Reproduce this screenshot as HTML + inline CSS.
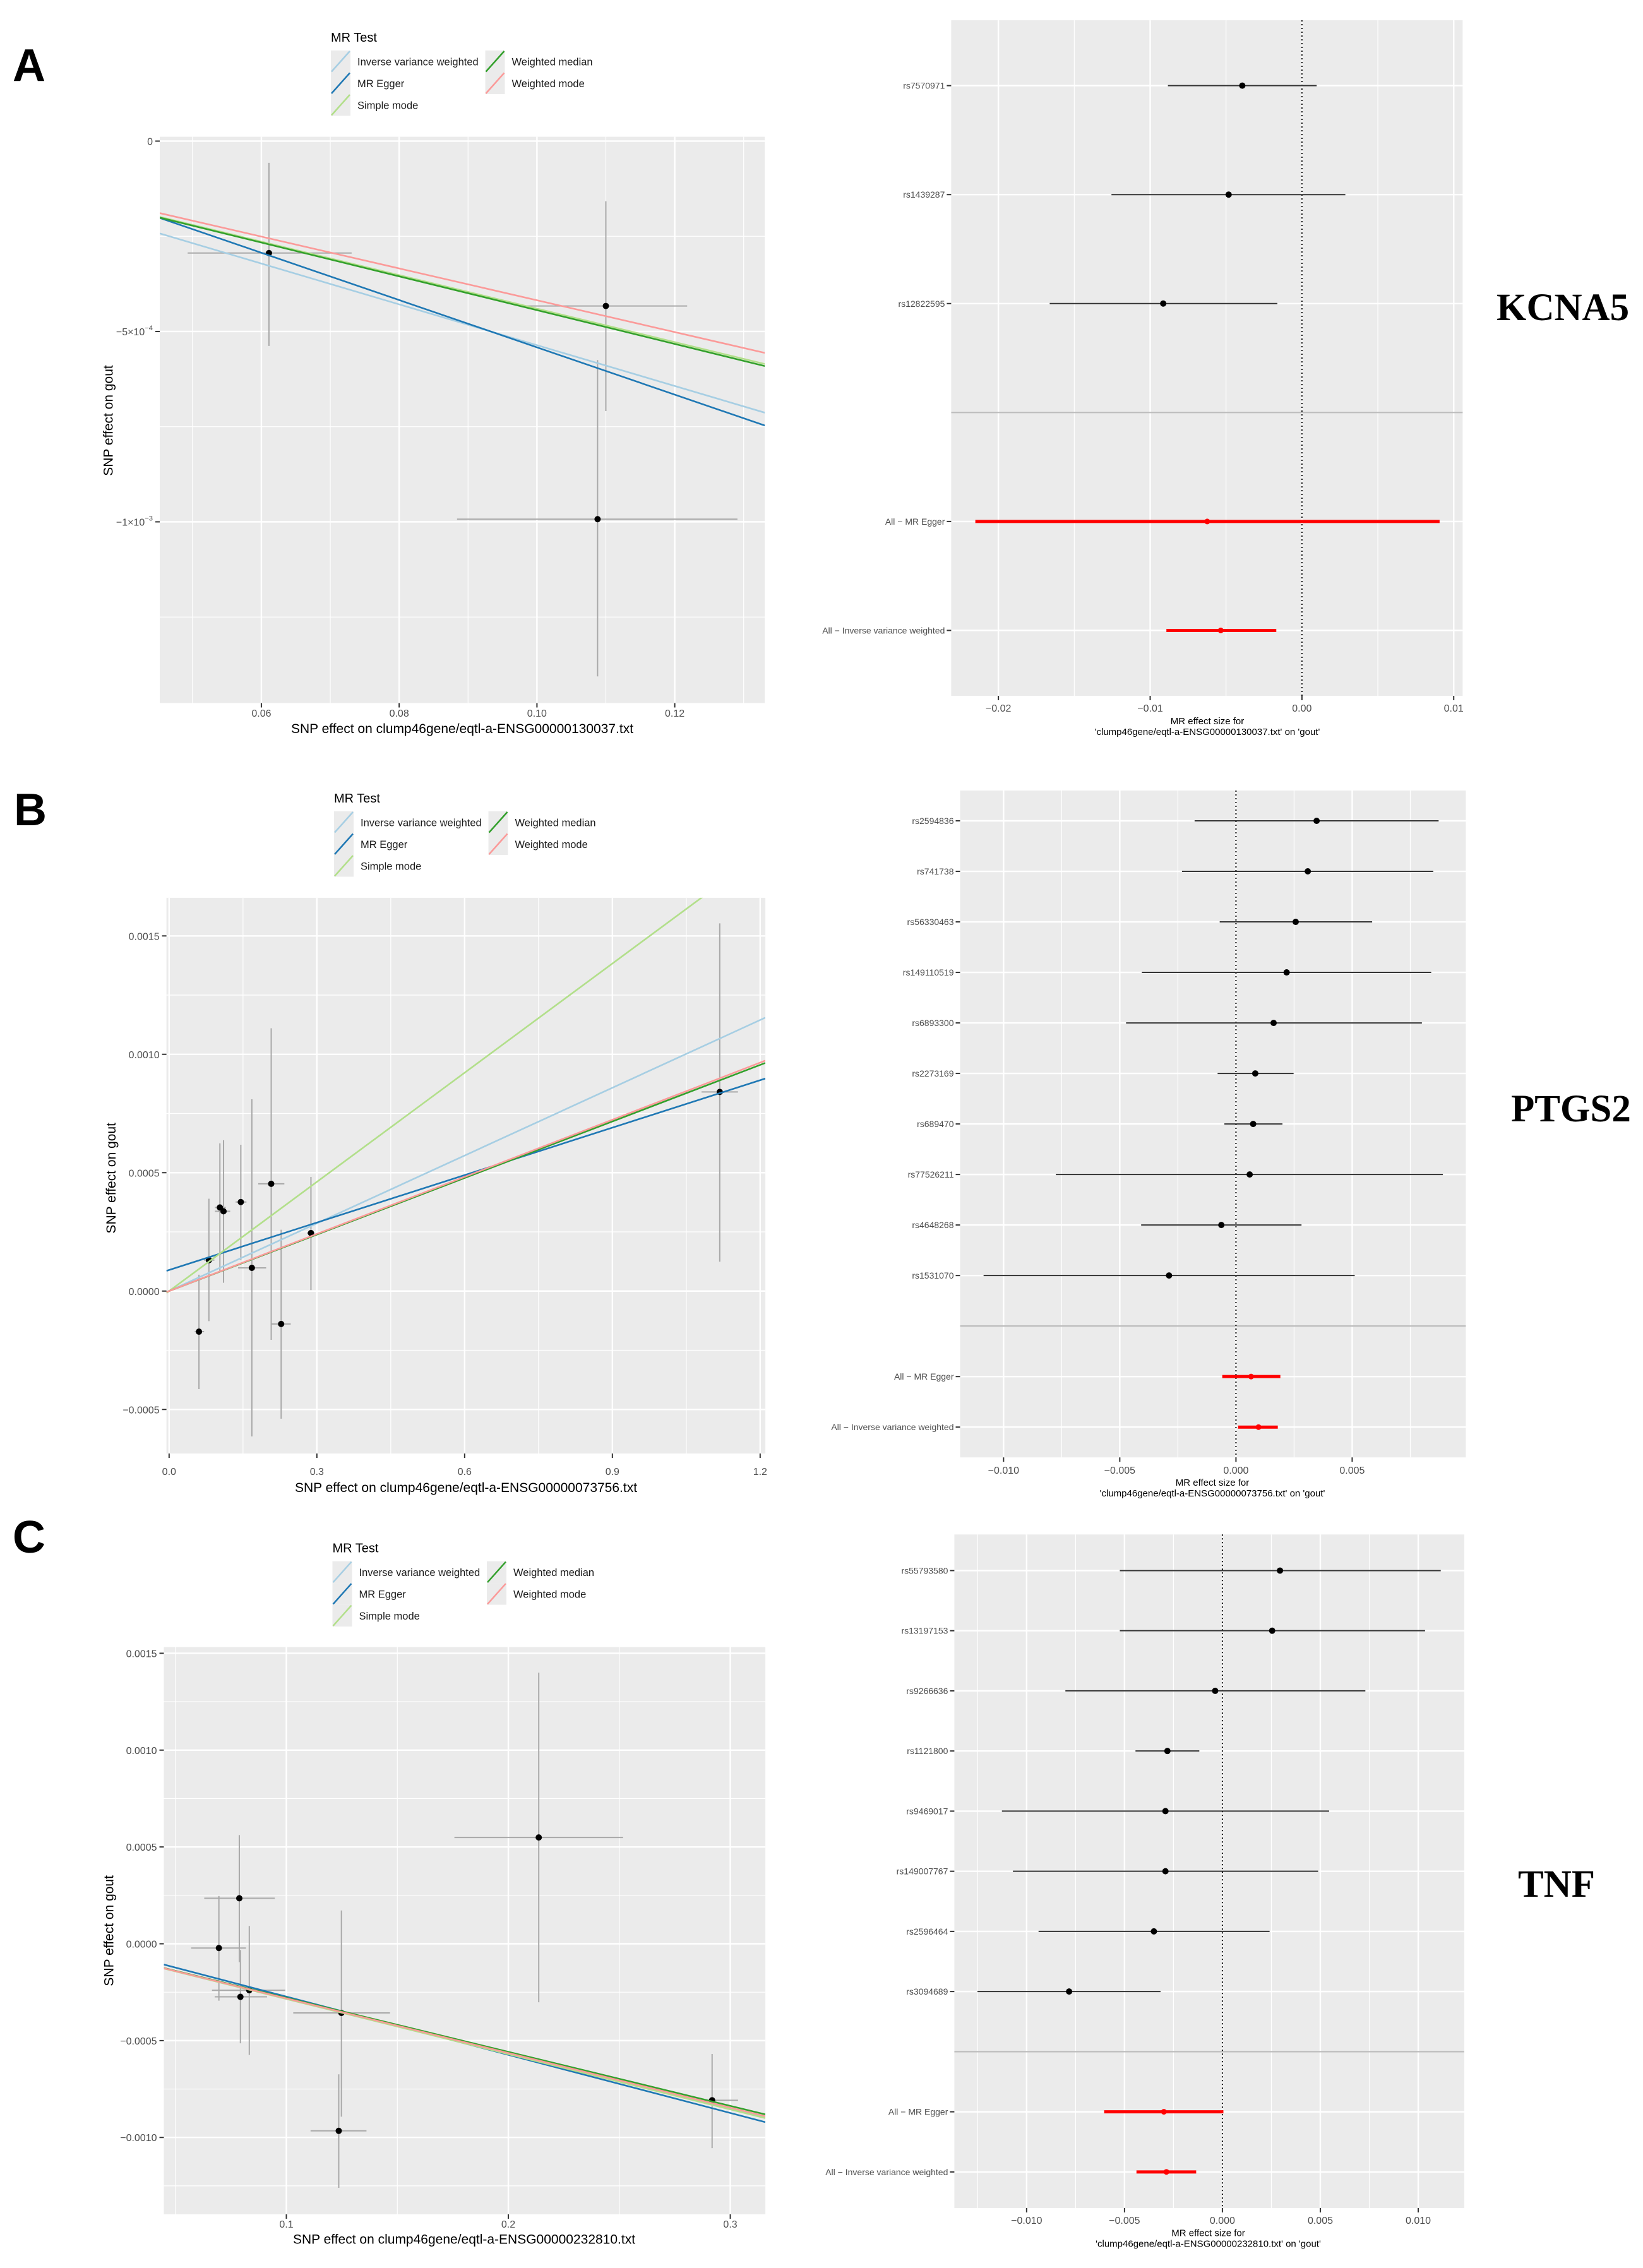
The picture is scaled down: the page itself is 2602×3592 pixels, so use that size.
<!DOCTYPE html>
<html><head><meta charset="utf-8"><title>MR scatter and forest plots</title>
<style>
html,body{margin:0;padding:0;background:#fff;}
svg{display:block;}
.tk{font-family:"Liberation Sans Narrow","Liberation Sans",sans-serif;fill:#4d4d4d;}
.ttl{font-family:"Liberation Sans",sans-serif;fill:#000;}
</style></head>
<body>
<svg id="chart" xmlns="http://www.w3.org/2000/svg" width="2602" height="3592" viewBox="0 0 2602 3592">
<rect x="0" y="0" width="2602" height="3592" fill="#fff"/>
<text x="20" y="128" font-family="Liberation Sans, sans-serif" font-weight="bold" font-size="72">A</text>
<text x="22" y="1307" font-family="Liberation Sans, sans-serif" font-weight="bold" font-size="72">B</text>
<text x="20" y="2459" font-family="Liberation Sans, sans-serif" font-weight="bold" font-size="72">C</text>
<text x="2370" y="507" font-family="Liberation Serif, serif" font-weight="bold" font-size="61">KCNA5</text>
<text x="2393" y="1776" font-family="Liberation Serif, serif" font-weight="bold" font-size="61">PTGS2</text>
<text x="2404" y="3004" font-family="Liberation Serif, serif" font-weight="bold" font-size="61">TNF</text>
</svg>
<script>
// ---------- shared ----------
const methods=["Inverse variance weighted","MR Egger","Simple mode","Weighted median","Weighted mode"];
const methodColors=["#a6cee3","#1f78b4","#b2df8a","#33a02c","#fb9a99"];

// ---------- Panel A scatter ----------
const aXTicks=[0.06,0.08,0.10,0.12];
const aXTickLabels=["0.06","0.08","0.10","0.12"];
const aXMinor=[0.05,0.07,0.09,0.11,0.13];
const aYTicks=[0,-0.0005,-0.001];
const aYTickLabels=["0","−5×10^−4","−1×10^−3"];
const aYMinor=[-0.00025,-0.00075,-0.00125];
const aBx=[0.0611,0.1100,0.1088];
const aBy=[-0.000294,-0.000433,-0.000993];
const aXlo=[0.0493,0.0985,0.0884];
const aXhi=[0.0731,0.1218,0.1291];
const aYlo=[-0.000538,-0.000709,-0.001406];
const aYhi=[-0.000057,-0.000158,-0.000575];
const aSlope=[-0.00536,-0.00621,-0.00440,-0.00444,-0.00418];
const aIntercept=[0,0.0000793,0,0,0];

// ---------- Panel B scatter ----------
const bXTicks=[0,0.3,0.6,0.9,1.2];
const bXTickLabels=["0.0","0.3","0.6","0.9","1.2"];
const bXMinor=[0.15,0.45,0.75,1.05];
const bYTicks=[0.0015,0.001,0.0005,0,-0.0005];
const bYTickLabels=["0.0015","0.0010","0.0005","0.0000","−0.0005"];
const bYMinor=[0.00125,0.00075,0.00025,-0.00025];
const bBx=[0.0606,0.0808,0.1031,0.1105,0.1456,0.168,0.2073,0.2275,0.288,1.118];
const bBy=[-0.0001714,0.0001306,0.000353,0.000337,0.000376,0.000098,0.000453,-0.000139,0.000245,0.000841];
const bXlo=[0.052,0.071,0.093,0.093,0.135,0.140,0.181,0.207,0.280,1.081];
const bXhi=[0.071,0.092,0.115,0.124,0.157,0.197,0.234,0.247,0.295,1.155];
const bYlo=[-0.000414,-0.000127,0.00008,0.000035,0.000131,-0.000614,-0.000206,-0.000539,0.000004,0.000124];
const bYhi=[0.000069,0.00039,0.000624,0.000637,0.000618,0.00081,0.00111,0.000259,0.000482,0.001553];
const bSlope=[0.000954,0.000668,0.001537,0.000796,0.000804];
const bIntercept=[0,0.000089,0,0,0];

// ---------- Panel C scatter ----------
const cXTicks=[0.1,0.2,0.3];
const cXTickLabels=["0.1","0.2","0.3"];
const cXMinor=[0.05,0.15,0.25];
const cYTicks=[0.0015,0.001,0.0005,0,-0.0005,-0.001];
const cYTickLabels=["0.0015","0.0010","0.0005","0.0000","−0.0005","−0.0010"];
const cYMinor=[0.00125,0.00075,0.00025,-0.00025,-0.00075,-0.00125];
const cBx=[0.0696,0.0788,0.0793,0.0833,0.1248,0.1236,0.2137,0.2918];
const cBy=[-0.000022,0.000235,-0.000274,-0.00024,-0.000357,-0.000966,0.000549,-0.000808];
const cXlo=[0.0571,0.0630,0.0677,0.0665,0.1031,0.1109,0.1757,0.2847];
const cXhi=[0.0818,0.0948,0.0913,0.0995,0.1467,0.1361,0.2517,0.3035];
const cYlo=[-0.000294,-0.000095,-0.000514,-0.000574,-0.000893,-0.00126,-0.000302,-0.001055];
const cYhi=[0.000247,0.000561,-0.000032,0.000092,0.000172,-0.000674,0.0014,-0.000569];
const cSlope=[-0.00283,-0.003003,-0.00285,-0.00279,-0.00282];
const cIntercept=[0,0.0000273,0,0,0];

// ---------- Forest A ----------
const fALabels=["rs7570971","rs1439287","rs12822595","All − MR Egger","All − Inverse variance weighted"];
const fAEst=[-0.00393,-0.00483,-0.00914,-0.00624,-0.00535];
const fALo=[-0.00883,-0.01255,-0.01662,-0.02152,-0.00893];
const fAHi=[0.00097,0.00286,-0.00162,0.00907,-0.00169];
const fAXTicks=[-0.02,-0.01,0,0.01];
const fAXTickLabels=["−0.02","−0.01","0.00","0.01"];
const fAXMinor=[-0.015,-0.005,0.005];

// ---------- Forest B ----------
const fBLabels=["rs2594836","rs741738","rs56330463","rs149110519","rs6893300","rs2273169","rs689470","rs77526211","rs4648268","rs1531070","All − MR Egger","All − Inverse variance weighted"];
const fBEst=[0.00347,0.00309,0.00257,0.00218,0.00162,0.00083,0.00074,0.00059,-0.00063,-0.00288,0.00065,0.00097];
const fBLo=[-0.00178,-0.00232,-0.00070,-0.00405,-0.00473,-0.00079,-0.00050,-0.00775,-0.00408,-0.01086,-0.00059,0.00009];
const fBHi=[0.00872,0.00849,0.00586,0.00840,0.00800,0.00248,0.00200,0.00890,0.00282,0.00511,0.00191,0.00180];
const fBXTicks=[-0.01,-0.005,0,0.005];
const fBXTickLabels=["−0.010","−0.005","0.000","0.005"];
const fBXMinor=[-0.0075,-0.0025,0.0025,0.0075];

// ---------- Forest C ----------
const fCLabels=["rs55793580","rs13197153","rs9266636","rs1121800","rs9469017","rs149007767","rs2596464","rs3094689","All − MR Egger","All − Inverse variance weighted"];
const fCEst=[0.00294,0.00254,-0.00037,-0.00281,-0.00291,-0.00291,-0.00350,-0.00783,-0.00299,-0.00286];
const fCLo=[-0.00524,-0.00524,-0.00802,-0.00444,-0.01126,-0.01070,-0.00939,-0.01251,-0.00604,-0.00439];
const fCHi=[0.01115,0.01035,0.00730,-0.00118,0.00545,0.00489,0.00241,-0.00316,0.00005,-0.00134];
const fCXTicks=[-0.01,-0.005,0,0.005,0.01];
const fCXTickLabels=["−0.010","−0.005","0.000","0.005","0.010"];
const fCXMinor=[-0.0125,-0.0075,-0.0025,0.0025,0.0075];

// ---------- drawing helpers ----------
const NS="http://www.w3.org/2000/svg";
const svg=document.getElementById("chart");
function mk(tag,attrs,parent){
  const e=document.createElementNS(NS,tag);
  for(const k in attrs) e.setAttribute(k,attrs[k]);
  (parent||svg).appendChild(e);
  return e;
}
function tickText(parent,x,y,label,anchor,size,name){
  const t=mk("text",{x:x,y:y,"text-anchor":anchor,"font-size":size,class:"tk"},parent);
  
  
  const parts=label.split("^");
  t.appendChild(document.createTextNode(parts[0]));
  if(parts[1]){
    const s=mk("tspan",{dy:-8,"font-size":size*0.7},t);
    s.textContent=parts[1];
  }
  return t;
}

function legend(x,y,name){
  const g=mk("g",{});
  
  
  const t=mk("text",{x:x,y:y,"font-size":20,class:"tk"},g);
  
  
  t.style.fill="#000";
  t.textContent="MR Test";
  const rowH=34.5;
  methods.forEach(function(m,i){
    const col=i<3?0:1, row=i<3?i:i-3;
    const kx=x+col*244.5, ky=y+14+row*rowH;
    const e=mk("g",{},g);
    
    
    mk("rect",{x:kx,y:ky,width:31,height:rowH,fill:"#ebebeb"},e);
    mk("line",{x1:kx+1,y1:ky+rowH-1,x2:kx+30,y2:ky+1,stroke:methodColors[i],"stroke-width":2.5},e);
    const lt=mk("text",{x:kx+42,y:ky+rowH/2+6,"font-size":16.5,class:"tk"},e);
    lt.style.fill="#1a1a1a";
    lt.textContent=m;
  });
}

function scatter(P){
  const r=P.rect, xd=P.xdom, yd=P.ydom;
  const sx=function(v){return r[0]+(v-xd[0])/(xd[1]-xd[0])*(r[2]-r[0]);};
  const sy=function(v){return r[3]-(v-yd[0])/(yd[1]-yd[0])*(r[3]-r[1]);};
  const g=mk("g",{});
  
  
  const bg=mk("rect",{x:r[0],y:r[1],width:r[2]-r[0],height:r[3]-r[1],fill:"#ebebeb"},g);
  
  
  const clipId=P.name+"-clip";
  const cp=mk("clipPath",{id:clipId},g);
  mk("rect",{x:r[0],y:r[1],width:r[2]-r[0],height:r[3]-r[1]},cp);
  P.xMinor.forEach(function(v){mk("line",{x1:sx(v),x2:sx(v),y1:r[1],y2:r[3],stroke:"#fff","stroke-width":1.2},g);});
  P.yMinor.forEach(function(v){mk("line",{x1:r[0],x2:r[2],y1:sy(v),y2:sy(v),stroke:"#fff","stroke-width":1.2},g);});
  P.xTicks.forEach(function(v,i){
    const gl=mk("line",{x1:sx(v),x2:sx(v),y1:r[1],y2:r[3],stroke:"#fff","stroke-width":2.4},g);
    
    
    mk("line",{x1:sx(v),x2:sx(v),y1:r[3],y2:r[3]+7,stroke:"#333","stroke-width":2},g);
    tickText(g,sx(v),P.xTickY,P.xTickLabels[i],"middle",16,"x-tick-label");
  });
  P.yTicks.forEach(function(v,i){
    const gl=mk("line",{x1:r[0],x2:r[2],y1:sy(v),y2:sy(v),stroke:"#fff","stroke-width":2.4},g);
    
    
    mk("line",{x1:r[0]-7,x2:r[0],y1:sy(v),y2:sy(v),stroke:"#333","stroke-width":2},g);
    tickText(g,r[0]-11,sy(v)+6,P.yTickLabels[i],"end",16,"y-tick-label");
  });
  const marks=mk("g",{"clip-path":"url(#"+clipId+")"},g);
  P.bx.forEach(function(v,i){
    const eb=mk("line",{x1:sx(v),x2:sx(v),y1:sy(P.ylo[i]),y2:sy(P.yhi[i]),stroke:"#a9a9a9","stroke-width":2},marks);
    
    
    const ebh=mk("line",{x1:sx(P.xlo[i]),x2:sx(P.xhi[i]),y1:sy(P.by[i]),y2:sy(P.by[i]),stroke:"#a9a9a9","stroke-width":2},marks);
    
    
  });
  P.bx.forEach(function(v,i){
    const pt=mk("circle",{cx:sx(v),cy:sy(P.by[i]),r:5,fill:"#000"},marks);
    
    
  });
  P.slope.forEach(function(b,i){
    const a=P.intercept[i];
    const ln=mk("line",{x1:sx(xd[0]),y1:sy(a+b*xd[0]),x2:sx(xd[1]),y2:sy(a+b*xd[1]),stroke:methodColors[i],"stroke-width":2.6},marks);
    
    
  });
  const xt=mk("text",{x:P.xTitle[0],y:P.xTitle[1],"text-anchor":"middle","font-size":21,class:"ttl"},g);
  
  
  xt.textContent=P.xTitleText;
  const yt=mk("text",{x:0,y:0,"text-anchor":"middle","font-size":21,class:"ttl",transform:"translate("+(P.yTitle[0]+7)+","+P.yTitle[1]+") rotate(-90)"},g);
  
  
  yt.textContent="SNP effect on gout";
}

function forest(P){
  const r=P.rect, xd=P.xdom;
  const nSnp=P.labels.filter(function(s){return s.indexOf("All")!==0;}).length;
  const n=P.labels.length+1;
  const sx=function(v){return r[0]+(v-xd[0])/(xd[1]-xd[0])*(r[2]-r[0]);};
  const sk=function(k){return r[3]-(k-0.4)/(n+0.2)*(r[3]-r[1]);};
  const levelOf=function(i){return i<nSnp? n-i : n-i-1;};
  const g=mk("g",{});
  
  
  const bg=mk("rect",{x:r[0],y:r[1],width:r[2]-r[0],height:r[3]-r[1],fill:"#ebebeb"},g);
  
  
  P.xMinor.forEach(function(v){mk("line",{x1:sx(v),x2:sx(v),y1:r[1],y2:r[3],stroke:"#fff","stroke-width":1.2},g);});
  P.xTicks.forEach(function(v,i){
    const gl=mk("line",{x1:sx(v),x2:sx(v),y1:r[1],y2:r[3],stroke:"#fff","stroke-width":2.4},g);
    
    
    mk("line",{x1:sx(v),x2:sx(v),y1:r[3],y2:r[3]+7,stroke:"#333","stroke-width":2},g);
    tickText(g,sx(v),P.xTickY,P.xTickLabels[i],"middle",16,"x-tick-label");
  });
  P.labels.forEach(function(lab,i){
    const y=sk(levelOf(i));
    mk("line",{x1:r[0],x2:r[2],y1:y,y2:y,stroke:"#fff","stroke-width":2.4},g);
    mk("line",{x1:r[0]-7,x2:r[0],y1:y,y2:y,stroke:"#333","stroke-width":2},g);
    tickText(g,r[0]-10,y+5,lab,"end",14,"row-label");
  });
  const sepY=sk(n-nSnp);
  const sep=mk("line",{x1:r[0],x2:r[2],y1:sepY,y2:sepY,stroke:"#bdbdbd","stroke-width":2.2},g);
  
  
  const z=mk("line",{x1:sx(0),x2:sx(0),y1:r[1],y2:r[3],stroke:"#000","stroke-width":2,"stroke-dasharray":"2,4"},g);
  
  
  P.labels.forEach(function(lab,i){
    const y=sk(levelOf(i)), all=lab.indexOf("All")===0;
    const ci=mk("line",{x1:sx(P.lo[i]),x2:sx(P.hi[i]),y1:y,y2:y,stroke:all?"#ff0000":"#333","stroke-width":all?5:2},g);
    
    
    const pt=mk("circle",{cx:sx(P.est[i]),cy:y,r:all?4.5:5,fill:all?"#ff0000":"#000"},g);
    
    
  });
  const t1=mk("text",{x:P.titleX,y:P.titleY,"text-anchor":"middle","font-size":15,class:"ttl"},g);
  
  
  t1.textContent="MR effect size for";
  const t2=mk("text",{x:P.titleX,y:P.titleY+17,"text-anchor":"middle","font-size":15,class:"ttl"},g);
  
  
  t2.textContent=P.title2;
}

// ---------- render ----------
legend(524,66,"legend-a");
legend(529,1271,"legend-b");
legend(526.5,2458.6,"legend-c");

scatter({name:"scatter-a",rect:[253,216.6,1211.2,1113.5],xdom:[0.04525,0.13307],ydom:[-0.001476,0.0000114],
  xTicks:aXTicks,xTickLabels:aXTickLabels,xMinor:aXMinor,yTicks:aYTicks,yTickLabels:aYTickLabels,yMinor:aYMinor,
  bx:aBx,by:aBy,xlo:aXlo,xhi:aXhi,ylo:aYlo,yhi:aYhi,slope:aSlope,intercept:aIntercept,
  xTickY:1135,xTitle:[732,1161],xTitleText:"SNP effect on clump46gene/eqtl-a-ENSG00000130037.txt",yTitle:[171.6,666]});
scatter({name:"scatter-b",rect:[263.6,1421.9,1212.1,2302],xdom:[-0.0054,1.2106],ydom:[-0.000686,0.001661],
  xTicks:bXTicks,xTickLabels:bXTickLabels,xMinor:bXMinor,yTicks:bYTicks,yTickLabels:bYTickLabels,yMinor:bYMinor,
  bx:bBx,by:bBy,xlo:bXlo,xhi:bXhi,ylo:bYlo,yhi:bYhi,slope:bSlope,intercept:bIntercept,
  xTickY:2336,xTitle:[738,2363],xTitleText:"SNP effect on clump46gene/eqtl-a-ENSG00000073756.txt",yTitle:[175.8,1865.8]});
scatter({name:"scatter-c",rect:[259.5,2608.6,1212.1,3507],xdom:[0.04481,0.3158],ydom:[-0.001397,0.001532],
  xTicks:cXTicks,xTickLabels:cXTickLabels,xMinor:cXMinor,yTicks:cYTicks,yTickLabels:cYTickLabels,yMinor:cYMinor,
  bx:cBx,by:cBy,xlo:cXlo,xhi:cXhi,ylo:cYlo,yhi:cYhi,slope:cSlope,intercept:cIntercept,
  xTickY:3528,xTitle:[735,3553.7],xTitleText:"SNP effect on clump46gene/eqtl-a-ENSG00000232810.txt",yTitle:[172.4,3057.8]});

forest({name:"forest-a",rect:[1506.4,32.1,2316.4,1102],xdom:[-0.02311,0.01059],labels:fALabels,est:fAEst,lo:fALo,hi:fAHi,
  xTicks:fAXTicks,xTickLabels:fAXTickLabels,xMinor:fAXMinor,xTickY:1127,titleX:1912,titleY:1147,
  title2:"'clump46gene/eqtl-a-ENSG00000130037.txt' on 'gout'"});
forest({name:"forest-b",rect:[1520.5,1252,2321.4,2308.2],xdom:[-0.01187,0.00989],labels:fBLabels,est:fBEst,lo:fBLo,hi:fBHi,
  xTicks:fBXTicks,xTickLabels:fBXTickLabels,xMinor:fBXMinor,xTickY:2334,titleX:1920,titleY:2353,
  title2:"'clump46gene/eqtl-a-ENSG00000073756.txt' on 'gout'"});
forest({name:"forest-c",rect:[1511.4,2430.3,2318.9,3497],xdom:[-0.01369,0.01235],labels:fCLabels,est:fCEst,lo:fCLo,hi:fCHi,
  xTicks:fCXTicks,xTickLabels:fCXTickLabels,xMinor:fCXMinor,xTickY:3522,titleX:1913.5,titleY:3541.5,
  title2:"'clump46gene/eqtl-a-ENSG00000232810.txt' on 'gout'"});
</script>
</body></html>
